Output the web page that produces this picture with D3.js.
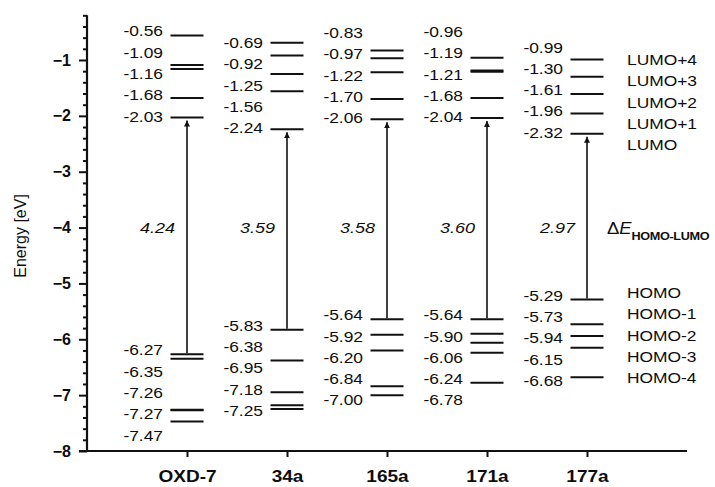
<!DOCTYPE html>
<html>
<head>
<meta charset="utf-8">
<script src="https://cdn.jsdelivr.net/npm/d3@7"></script>
<style>
  body { margin: 0; background: #fff; }
  svg { display: block; }
  text { font-family: Arial, "Liberation Sans", sans-serif; fill: #0d0d0d; }
</style>
</head>
<body>
<svg id="chart" width="715" height="487"></svg>
<script>
// ---- data ----
const categories = ["OXD-7", "34a", "165a", "171a", "177a"];
const lumoLevels = [
  [-0.56, -1.09, -1.16, -1.68, -2.03],
  [-0.69, -0.92, -1.25, -1.56, -2.24],
  [-0.83, -0.97, -1.22, -1.70, -2.06],
  [-0.96, -1.19, -1.21, -1.68, -2.04],
  [-0.99, -1.30, -1.61, -1.96, -2.32]
];
const homoLevels = [
  [-6.27, -6.35, -7.26, -7.27, -7.47],
  [-5.83, -6.38, -6.95, -7.18, -7.25],
  [-5.64, -5.92, -6.20, -6.84, -7.00],
  [-5.64, -5.90, -6.06, -6.24, -6.78],
  [-5.29, -5.73, -5.94, -6.15, -6.68]
];
const gaps = ["4.24", "3.59", "3.58", "3.60", "2.97"];
const lumoNames = ["LUMO+4", "LUMO+3", "LUMO+2", "LUMO+1", "LUMO"];
const homoNames = ["HOMO", "HOMO-1", "HOMO-2", "HOMO-3", "HOMO-4"];
const yTicks = [-8, -7, -6, -5, -4, -3, -2, -1];

// ---- scales ----
const svg = d3.select("#chart");
const x = d3.scaleLinear().domain([0, 6]).range([87, 687]);
const y = d3.scaleLinear().domain([-8, -0.2]).range([451, 15.3]);
const step = 21.3;
const halfW = 16.5;
const SX = 1.2; // horizontal stretch of the scanned lettering

function label(parent, px, py, str, size, anchor, extra) {
  const t = parent.append("text")
    .attr("transform", `translate(${px},${py}) scale(${SX},1)`)
    .attr("dy", "0.35em")
    .attr("text-anchor", anchor)
    .style("font-size", size + "px")
    .text(str);
  if (extra) extra(t);
  return t;
}

// ---- y axis ----
const minorTicks = d3.range(-8, -0.19, 0.2).map(v => +v.toFixed(2)).filter(v => Math.abs(v - Math.round(v)) > 0.01);
const gMinor = svg.append("g").attr("transform", `translate(${x(0)},0)`)
  .call(d3.axisLeft(y).tickValues(minorTicks).tickSize(4).tickFormat(""));
gMinor.select(".domain").remove();
gMinor.selectAll(".tick line").attr("stroke", "#111").attr("stroke-width", 2);

const gMajor = svg.append("g").attr("transform", `translate(${x(0)},0)`)
  .call(d3.axisLeft(y).tickValues(yTicks).tickSize(8).tickPadding(8).tickFormat(d3.format("d")));
gMajor.select(".domain").remove();
gMajor.selectAll(".tick line").attr("stroke", "#111").attr("stroke-width", 2);
gMajor.selectAll(".tick text")
  .style("font-family", "Arial, 'Liberation Sans', sans-serif")
  .style("font-size", "16px").style("font-weight", "bold").attr("fill", "#111");

svg.append("line").attr("x1", x(0)).attr("x2", x(0)).attr("y1", y(-0.2)).attr("y2", y(-8))
  .attr("stroke", "#111").attr("stroke-width", 2.2);

// ---- x axis ----
svg.append("line").attr("x1", x(0) - 8).attr("x2", x(6)).attr("y1", y(-8)).attr("y2", y(-8))
  .attr("stroke", "#111").attr("stroke-width", 2.2);
const gX = svg.append("g").attr("transform", `translate(0,${y(-8)})`)
  .call(d3.axisBottom(x).tickValues([1, 2, 3, 4, 5]).tickSize(6).tickPadding(13)
    .tickFormat(d => categories[d - 1]));
gX.select(".domain").remove();
gX.selectAll(".tick line").attr("stroke", "#111").attr("stroke-width", 2);
gX.selectAll(".tick text")
  .attr("transform", "scale(1.12,1)")
  .attr("x", 0)
  .style("font-family", "Arial, 'Liberation Sans', sans-serif")
  .style("font-size", "17px").style("font-weight", "bold").attr("fill", "#111");

// axis title
svg.append("text")
  .attr("transform", `translate(26,${y(-4.15)}) rotate(-90)`)
  .attr("text-anchor", "middle")
  .style("font-size", "16px")
  .text("Energy [eV]");

// ---- arrowhead ----
svg.append("defs").append("marker")
  .attr("id", "arrow").attr("viewBox", "0 0 10 10")
  .attr("refX", 10).attr("refY", 5)
  .attr("markerWidth", 6).attr("markerHeight", 9)
  .attr("markerUnits", "userSpaceOnUse")
  .attr("orient", "auto")
  .append("path").attr("d", "M0,0 L10,5 L0,10 Z").attr("fill", "#111");

// ---- levels ----
categories.forEach((c, i) => {
  const cx = x(i + 1);
  const g = svg.append("g");
  const lumo = lumoLevels[i], homo = homoLevels[i];
  [...lumo, ...homo].forEach(v => {
    g.append("line").attr("x1", cx - halfW).attr("x2", cx + halfW)
      .attr("y1", y(v)).attr("y2", y(v))
      .attr("stroke", "#111").attr("stroke-width", 2);
  });
  // LUMO labels: stacked upward from the lowest LUMO
  const lumoBase = y(lumo[lumo.length - 1]) - 1;
  lumo.forEach((v, k) => {
    label(g, cx - 24, lumoBase - (lumo.length - 1 - k) * step, v.toFixed(2), 14.5, "end");
  });
  // HOMO labels: stacked downward from HOMO
  const homoBase = y(homo[0]) - 4;
  homo.forEach((v, k) => {
    label(g, cx - 24, homoBase + k * step, v.toFixed(2), 14.5, "end");
  });
  // gap arrow
  g.append("line").attr("x1", cx).attr("x2", cx)
    .attr("y1", y(homo[0]) - 1).attr("y2", y(lumo[lumo.length - 1]) + 3)
    .attr("stroke", "#111").attr("stroke-width", 1.6)
    .attr("marker-end", "url(#arrow)");
  label(g, cx - 12, y(-4), gaps[i], 15, "end", t => t.style("font-style", "italic"));
});

// ---- right-hand annotations ----
const rx = 627;
lumoNames.forEach((n, k) => label(svg, rx, 60 + k * step, n, 14.5, "start"));
homoNames.forEach((n, k) => label(svg, rx, 293 + k * step, n, 14.5, "start"));

const de = svg.append("text")
  .attr("transform", `translate(607,${y(-4) + 6}) scale(1.15,1)`)
  .style("font-size", "16px");
de.append("tspan").text("\u0394");
de.append("tspan").style("font-style", "italic").text("E");
de.append("tspan").attr("dy", 6).style("font-size", "11px").style("font-weight", "bold")
  .attr("letter-spacing", "-0.3").text("HOMO-LUMO");
</script>
</body>
</html>
